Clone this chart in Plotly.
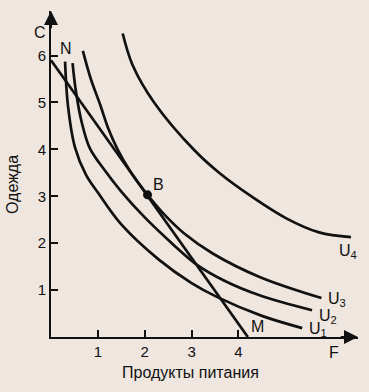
import plotly.graph_objects as go

# Indifference curves: food (x), clothing (y)
u1_x = [0.30, 0.36, 0.51, 0.75, 1.00, 1.50, 2.30, 3.00, 3.55, 4.50, 5.36]
u1_y = [5.87, 4.95, 4.05, 3.45, 3.08, 2.40, 1.65, 1.15, 0.85, 0.45, 0.19]

u2_x = [0.46, 0.53, 0.65, 0.83, 1.15, 1.50, 2.00, 2.60, 3.10, 3.70, 4.45, 5.57]
u2_y = [5.84, 5.25, 4.60, 4.02, 3.55, 3.10, 2.55, 1.98, 1.55, 1.20, 0.89, 0.57]

u3_x = [0.68, 0.85, 1.05, 1.22, 1.42, 1.68, 2.06, 2.40, 2.85, 3.45, 4.45, 5.77]
u3_y = [6.10, 5.50, 4.95, 4.45, 4.00, 3.55, 3.03, 2.63, 2.20, 1.78, 1.28, 0.83]

u4_x = [1.53, 1.74, 2.20, 3.06, 3.60, 4.30, 5.02, 5.72, 6.40]
u4_y = [6.47, 5.80, 5.00, 3.98, 3.49, 2.98, 2.53, 2.23, 2.13]

# Budget line N-M and optimum B
budget_x = [0.0, 4.2]
budget_y = [5.9, 0.0]
point_b = (2.06, 3.03)

x_ticks = [1, 2, 3, 4]
y_ticks = [1, 2, 3, 4, 5, 6]

x_title = "Продукты питания"
y_title = "Одежда"

curve_labels = [("U<sub>1</sub>", 5.70, 0.17), ("U<sub>2</sub>", 5.90, 0.43),
                ("U<sub>3</sub>", 6.10, 0.80), ("U<sub>4</sub>", 6.33, 1.83)]
point_labels = [("N", 0.33, 6.15), ("B", 2.30, 3.25), ("M", 4.40, 0.22)]
outer_labels = [("C", -0.24, 6.50), ("F", 6.04, -0.33)]

FONT = "Liberation Sans, Arial, sans-serif"
BG = "#efe6df"
INK = "#111111"

X_MAX = 6.55
Y_MAX = 6.95
L, B = 51, 55
W = int(X_MAX * 47)
H = int(Y_MAX * 47)

fig = go.Figure()
line_style = dict(color=INK, width=2.7, shape="spline", smoothing=1.0)
for xs, ys in [(u1_x, u1_y), (u2_x, u2_y), (u3_x, u3_y), (u4_x, u4_y)]:
    fig.add_trace(go.Scatter(x=xs, y=ys, mode="lines", line=line_style,
                             hoverinfo="skip", showlegend=False, cliponaxis=False))

fig.add_trace(go.Scatter(x=budget_x, y=budget_y, mode="lines",
                         line=dict(color=INK, width=2.7),
                         showlegend=False, hoverinfo="skip"))
fig.add_trace(go.Scatter(x=[point_b[0]], y=[point_b[1]], mode="markers",
                         marker=dict(color=INK, size=9),
                         showlegend=False, hoverinfo="skip"))

annotations = []
for txt, x, y in curve_labels + point_labels + outer_labels:
    annotations.append(dict(x=x / X_MAX, y=y / Y_MAX, xref="paper", yref="paper",
                            text=txt, showarrow=False,
                            font=dict(family=FONT, size=16, color=INK),
                            xanchor="center", yanchor="middle"))
# axis titles
annotations.append(dict(x=(190 - L) / W, y=-(372 - (392 - B)) / H, xref="paper", yref="paper",
                        text=x_title, showarrow=False, xanchor="center", yanchor="middle",
                        font=dict(family=FONT, size=16, color=INK)))
annotations.append(dict(x=(12 - L) / W, y=((392 - B) - 185) / H, xref="paper", yref="paper",
                        text=y_title, showarrow=False, xanchor="center", yanchor="middle",
                        textangle=-90, font=dict(family=FONT, size=16, color=INK)))
# axis arrowheads
annotations.append(dict(x=X_MAX, y=0, ax=X_MAX - 0.4, ay=0, axref="x", ayref="y",
                        xref="x", yref="y", showarrow=True, arrowhead=2,
                        arrowsize=1.4, arrowwidth=2, arrowcolor=INK, text=""))
annotations.append(dict(x=0, y=Y_MAX, ax=0, ay=Y_MAX - 0.4, axref="x", ayref="y",
                        xref="x", yref="y", showarrow=True, arrowhead=2,
                        arrowsize=1.4, arrowwidth=2, arrowcolor=INK, text=""))

fig.update_layout(
    width=369, height=392,
    margin=dict(l=L, r=369 - L - W, t=392 - B - H, b=B, autoexpand=False),
    paper_bgcolor=BG, plot_bgcolor=BG,
    font=dict(family=FONT, size=15, color=INK),
    annotations=annotations,
    xaxis=dict(range=[0, X_MAX], tickvals=x_ticks, ticktext=[str(v) for v in x_ticks],
               ticks="inside", ticklen=7, tickwidth=1.5, tickcolor=INK,
               showline=True, linewidth=2, linecolor=INK, automargin=False,
               showgrid=False, zeroline=False, tickfont=dict(size=15)),
    yaxis=dict(range=[0, Y_MAX], tickvals=y_ticks, ticktext=[str(v) for v in y_ticks],
               ticks="inside", ticklen=7, tickwidth=1.5, tickcolor=INK,
               showline=True, linewidth=2, linecolor=INK, automargin=False,
               showgrid=False, zeroline=False, tickfont=dict(size=15)),
)

fig.write_html("out.html", config={"displayModeBar": False},
               post_script="document.body.style.margin='0';document.body.style.background='" + BG + "';")
